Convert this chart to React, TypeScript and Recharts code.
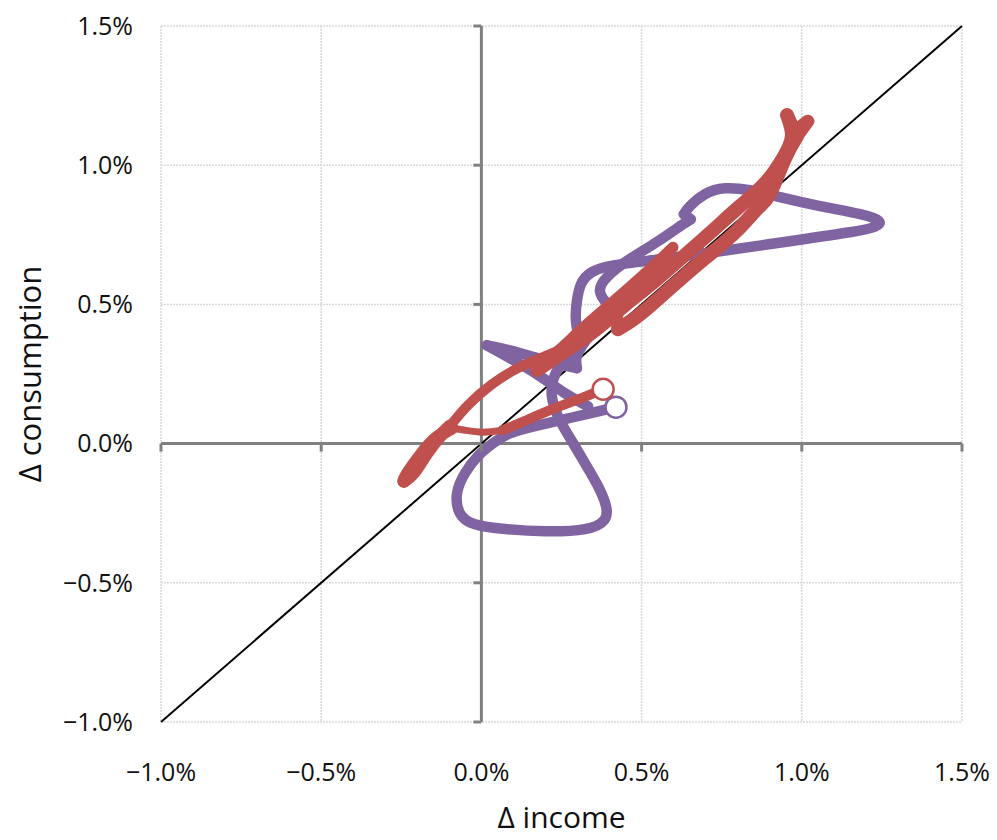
import React from "react";
import {
  ComposedChart,
  Line,
  XAxis,
  YAxis,
  CartesianGrid,
  ReferenceLine,
  ReferenceDot,
} from "recharts";

// values in percent: [Δ income, Δ consumption]
const purpleMain: number[][] = [
  [0.42, 0.131], [0.355, 0.113], [0.261, 0.088], [0.167, 0.063], [0.089, 0.037],
  [0.036, 0.001], [-0.011, -0.045], [-0.051, -0.106], [-0.076, -0.178], [-0.067, -0.25],
  [-0.02, -0.29], [0.074, -0.307], [0.199, -0.315], [0.323, -0.307], [0.383, -0.275],
  [0.389, -0.225], [0.364, -0.153], [0.323, -0.07], [0.277, 0.019], [0.239, 0.098],
  [0.22, 0.17], [0.224, 0.228], [0.245, 0.278], [0.283, 0.325], [0.302, 0.368],
  [0.295, 0.443], [0.298, 0.511], [0.311, 0.573], [0.345, 0.616], [0.417, 0.641],
  [0.557, 0.662], [0.745, 0.691], [0.963, 0.727], [1.15, 0.759], [1.228, 0.779],
  [1.24, 0.8], [1.182, 0.824], [1.057, 0.853], [0.932, 0.885], [0.838, 0.91],
  [0.76, 0.917], [0.698, 0.896], [0.651, 0.853], [0.632, 0.824],
];
const purpleNotch: number[][] = [
  [0.632, 0.824], [0.654, 0.806], [0.62, 0.781],
];
const purpleReturn: number[][] = [
  [0.62, 0.781], [0.542, 0.72], [0.458, 0.659], [0.392, 0.598], [0.37, 0.547],
  [0.392, 0.504], [0.408, 0.472], [0.37, 0.429], [0.326, 0.371], [0.298, 0.314],
  [0.298, 0.271],
];
const purpleV: number[][] = [
  [0.298, 0.271], [0.245, 0.285], [0.167, 0.31], [0.089, 0.335], [0.017, 0.353],
];
const purpleEnd: number[][] = [
  [0.017, 0.353], [0.089, 0.307], [0.183, 0.242], [0.261, 0.181], [0.333, 0.134],
];

const redStart: number[][] = [
  [0.38, 0.195], [0.302, 0.159], [0.214, 0.12], [0.127, 0.077], [0.067, 0.048],
];
const redThin: number[][] = [
  [0.067, 0.048], [0.005, 0.041], [-0.051, 0.048], [-0.092, 0.055],
];
const redBlobOut: number[][] = [
  [-0.092, 0.055], [-0.142, 0.019], [-0.192, -0.045], [-0.232, -0.11], [-0.242, -0.135],
];
const redBlobBack: number[][] = [
  [-0.242, -0.135], [-0.21, -0.103], [-0.17, -0.034], [-0.129, 0.027], [-0.098, 0.063],
];
const redCurveUp: number[][] = [
  [-0.098, 0.063], [-0.042, 0.138], [0.033, 0.213], [0.114, 0.271], [0.199, 0.314],
  [0.277, 0.353], [0.345, 0.393], [0.408, 0.458], [0.47, 0.529], [0.536, 0.619],
  [0.598, 0.705],
];
const redSpikeDown: number[][] = [
  [0.598, 0.705], [0.542, 0.644], [0.47, 0.569], [0.395, 0.494], [0.323, 0.422],
  [0.252, 0.346], [0.174, 0.264],
];
const redBandUp: number[][] = [
  [0.174, 0.264], [0.261, 0.332], [0.355, 0.407], [0.448, 0.497], [0.526, 0.569],
  [0.62, 0.662], [0.713, 0.756], [0.807, 0.853], [0.885, 0.935], [0.941, 1.025],
  [0.969, 1.104], [0.954, 1.18],
];
const redFork: number[][] = [
  [0.954, 1.18], [0.979, 1.122], [1.019, 1.158], [0.985, 1.104],
];
const redBandDown: number[][] = [
  [0.985, 1.104], [0.948, 1.025], [0.901, 0.899], [0.863, 0.846], [0.792, 0.759],
  [0.698, 0.666], [0.604, 0.573], [0.526, 0.494], [0.47, 0.443], [0.426, 0.411],
];
const redHook: number[][] = [
  [0.426, 0.411], [0.426, 0.472], [0.464, 0.529], [0.511, 0.565],
];

const axisTicks = [-1, -0.5, 0, 0.5, 1, 1.5];
const diagonal = [-1, 1.5];

const PURPLE = "#8064A2";
const RED = "#C0504D";
const FONT = "'Open Sans', sans-serif";

const toData = (pts: number[][]) => pts.map(([x, y]) => ({ x, y }));

const fmt = (v: number) => {
  const s = Math.abs(v).toFixed(1) + "%";
  return v < -1e-9 ? "\u2212" + s : s;
};

const LeftTick = (p: any) => (
  <line x1={p.cx} y1={p.cy} x2={p.cx - 8} y2={p.cy} stroke="#808080" strokeWidth={3} />
);
const DownTick = (p: any) => (
  <line x1={p.cx} y1={p.cy} x2={p.cx} y2={p.cy + 8} stroke="#808080" strokeWidth={3} />
);

const purpleSegments: [number[][], string][] = [
  [purpleMain, "natural"],
  [purpleNotch, "linear"],
  [purpleReturn, "natural"],
  [purpleV, "natural"],
  [purpleEnd, "natural"],
];

const redSegments: [number[][], string, number][] = [
  [redStart, "natural", 10],
  [redThin, "natural", 7],
  [redBlobOut, "natural", 13],
  [redBlobBack, "natural", 13],
  [redCurveUp, "natural", 10],
  [redSpikeDown, "natural", 11],
  [redBandUp, "natural", 14],
  [redFork, "linear", 13],
  [redBandDown, "natural", 14],
  [redHook, "natural", 12],
];

export default function App() {
  const lineProps = {
    dataKey: "y",
    dot: false,
    activeDot: false,
    isAnimationActive: false,
    strokeLinecap: "round" as const,
    strokeLinejoin: "round" as const,
    legendType: "none" as const,
  };
  return (
    <div style={{ position: "absolute", left: 0, top: 0, width: 997, height: 840, background: "#fff" }}>
      <ComposedChart
        width={997}
        height={840}
        margin={{ top: 26, right: 35, left: 0, bottom: 0 }}
        style={{ fontFamily: FONT }}
      >
        <CartesianGrid stroke="#d9d9d9" strokeWidth={1.5} strokeDasharray="2 1" />
        <XAxis
          type="number"
          dataKey="x"
          domain={[-1, 1.5]}
          ticks={axisTicks}
          allowDataOverflow
          tickFormatter={fmt}
          axisLine={false}
          tickLine={false}
          tickSize={0}
          tickMargin={41}
          height={118}
          tick={{ fill: "#111", fontSize: 25, fontFamily: FONT }}
          label={{ value: "\u0394 income", position: "insideBottom", offset: 12, fill: "#111", fontSize: 30, fontFamily: FONT }}
        />
        <YAxis
          type="number"
          dataKey="y"
          domain={[-1, 1.5]}
          ticks={axisTicks}
          allowDataOverflow
          tickFormatter={fmt}
          axisLine={false}
          tickLine={false}
          tickSize={0}
          tickMargin={28}
          width={161}
          tick={{ fill: "#111", fontSize: 25, fontFamily: FONT }}
          label={{ value: "\u0394 consumption", angle: -90, position: "insideLeft", offset: 30, fill: "#111", fontSize: 31, fontFamily: FONT, style: { textAnchor: "middle" } }}
        />
        <ReferenceLine x={0} stroke="#808080" strokeWidth={3} />
        <ReferenceLine y={0} stroke="#808080" strokeWidth={3} />
        {axisTicks.map((v) => (
          <ReferenceDot key={"yt" + v} x={0} y={v} r={1} shape={LeftTick} />
        ))}
        {axisTicks.map((v) => (
          <ReferenceDot key={"xt" + v} x={v} y={0} r={1} shape={DownTick} />
        ))}
        <ReferenceLine
          segment={[
            { x: diagonal[0], y: diagonal[0] },
            { x: diagonal[1], y: diagonal[1] },
          ]}
          stroke="#000"
          strokeWidth={2}
        />
        {purpleSegments.map(([pts, t], i) => (
          <Line key={"p" + i} {...lineProps} type={t as any} data={toData(pts)} stroke={PURPLE} strokeWidth={10.5} />
        ))}
        {redSegments.map(([pts, t, w], i) => (
          <Line key={"r" + i} {...lineProps} type={t as any} data={toData(pts)} stroke={RED} strokeWidth={w} />
        ))}
        <ReferenceDot x={purpleMain[0][0]} y={purpleMain[0][1]} r={10.5} fill="#fff" stroke={PURPLE} strokeWidth={2.5} />
        <ReferenceDot x={redStart[0][0]} y={redStart[0][1]} r={10.5} fill="#fff" stroke={RED} strokeWidth={2.5} />
      </ComposedChart>
    </div>
  );
}
